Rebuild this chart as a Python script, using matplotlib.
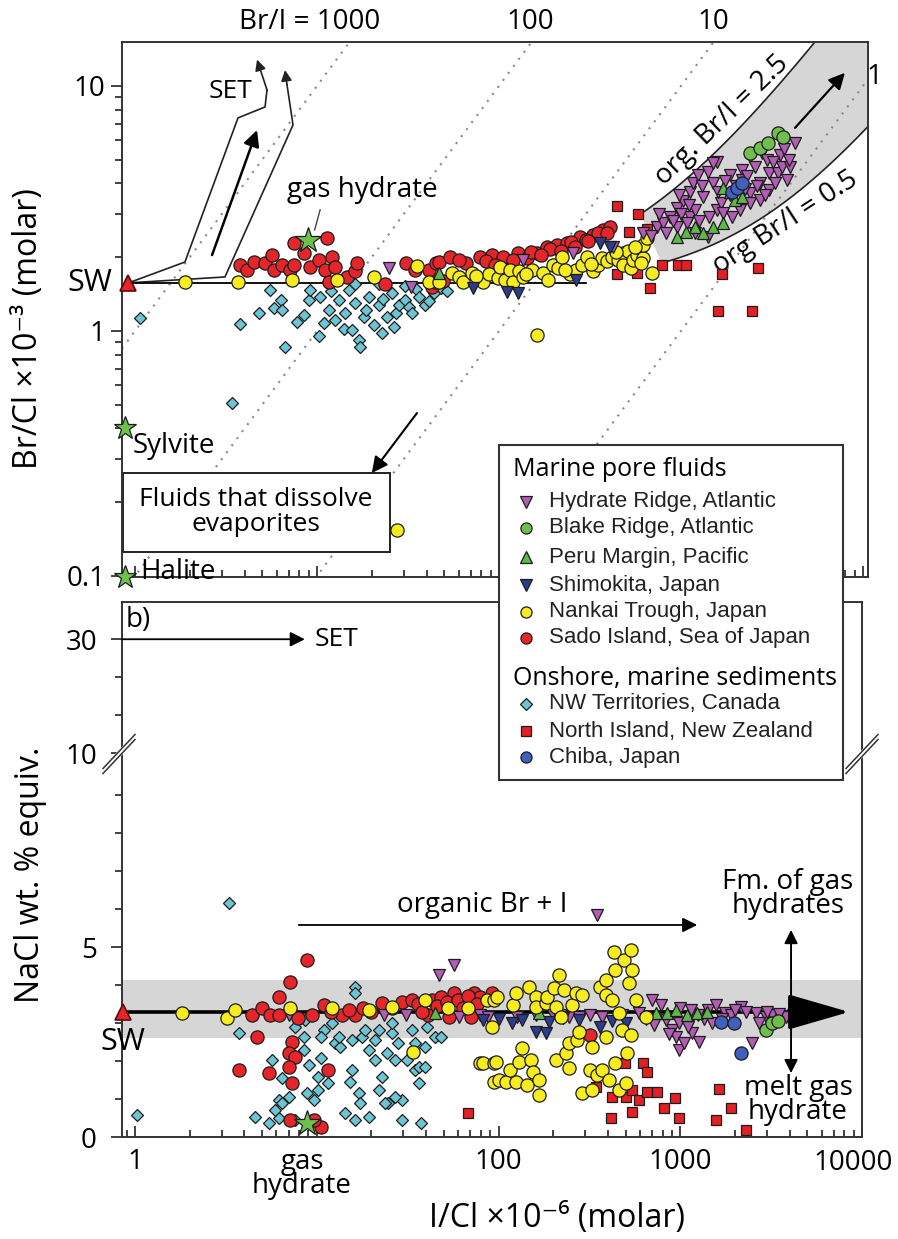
import matplotlib.pyplot as plt
import numpy as np
from matplotlib.patches import Rectangle
from matplotlib.lines import Line2D
from matplotlib.ticker import LogLocator, NullFormatter, FixedLocator

plt.rcParams['font.family'] = ['Open Sans', 'DejaVu Sans']

# ---------------- panel a: Br/Cl (x1e-3) vs I/Cl (x1e-6) ----------------
hydrate_ic = [25, 33, 135, 255, 425, 740, 800, 830, 870, 950, 950, 1030, 1120, 1120, 1160,
              1200, 1200, 1240, 1320, 1400, 1400, 1420, 1500, 1580, 1580, 1650, 1700, 1850,
              1850, 1900, 2100, 2160, 2160, 2400, 2400, 2400, 2540, 2700, 2700, 2800, 2950,
              3060, 3060, 3400, 3500, 3600, 3830, 3980, 4240, 1500, 1300, 1000, 1100, 900,
              2000, 2300, 2600, 3200, 3700, 620, 680, 760, 980, 1080, 1250, 1600, 1750,
              2250, 2900, 3300, 3900]
hydrate_brcl = [1.81, 1.51, 1.95, 2.08, 2.2, 2.66, 2.76, 2.51, 2.92, 3.17, 2.66, 3.4, 3.7, 2.92,
                4.0, 3.1, 2.51, 4.33, 3.53, 4.46, 2.42, 2.92, 4.0, 4.9, 3.12, 3.33, 3.03, 4.33,
                3.6, 2.92, 3.12, 4.54, 4.14, 3.66, 3.33, 5.14, 4.67, 4.0, 3.42, 5.33, 5.0,
                3.77, 4.42, 4.42, 5.2, 4.67, 4.14, 4.67, 5.85, 4.84, 3.9, 3.0, 3.25, 2.8,
                3.9, 4.3, 3.9, 4.9, 5.5, 2.5, 2.45, 3.0, 3.6, 2.75, 2.8, 3.7, 4.1,
                3.8, 3.6, 4.0, 5.0]
blake_ic = [2400, 2700, 2990, 3400, 3620]
blake_brcl = [5.33, 5.58, 5.85, 6.43, 6.2]
peru_ic = [47, 950, 1070, 1200, 1320, 1500, 1700, 1700, 1850, 1990, 2160]
peru_brcl = [1.72, 2.42, 2.54, 2.66, 2.51, 2.66, 2.76, 3.83, 3.7, 3.42, 3.53]
shimo_ic = [72, 110, 127, 266, 360, 405]
shimo_brcl = [1.5, 1.44, 1.43, 1.61, 2.28, 2.2]
nankai_ic = [1.88, 3.68, 7.3, 12.9, 20.5, 35.5, 41, 47, 55, 60, 63, 71, 81.6, 88, 98.6,
             101, 108, 115, 119, 128, 135, 151, 161, 174, 185, 197, 210, 222, 245, 265,
             285, 303, 328, 350, 367, 390, 417, 450, 480, 480, 510, 530, 545, 570, 595,
             620, 620, 650, 695, 27.5, 75, 140, 230, 320, 440, 560, 600]
nankai_brcl = [1.58, 1.58, 1.61, 1.61, 1.66, 1.84, 1.58, 1.58, 1.73, 1.66, 1.59, 1.73, 1.59,
               1.70, 1.65, 1.83, 1.62, 1.78, 1.59, 1.75, 1.66, 1.78, 0.96, 1.73, 1.62, 1.86,
               1.80, 2.0, 1.70, 1.78, 1.86, 2.0, 1.75, 1.85, 1.99, 1.92, 2.0, 1.95, 2.08,
               1.85, 2.12, 1.80, 1.95, 2.05, 2.18, 1.98, 2.25, 2.39, 1.73, 0.154, 1.68, 1.70,
               1.78, 1.88, 2.1, 2.2, 1.9]
sado_ic = [3.77, 4.1, 4.5, 5.18, 5.65, 5.8, 6.4, 7.1, 7.5, 7.5, 8.5, 9.1, 10.2, 11.0, 11.3,
           11.6, 12.1, 12.6, 14.6, 16.2, 16.6, 23.6, 31, 34.5, 41, 43, 44.5, 45, 47, 49,
           53.6, 66, 78.6, 91.5, 105, 112, 127, 142, 161, 183, 208, 236, 278, 328, 372, 405,
           60, 85, 150, 190, 250, 300, 350, 95, 120, 170, 220, 260, 310, 390]
sado_brcl = [1.86, 1.78, 1.91, 1.89, 2.05, 1.78, 1.86, 1.78, 2.28, 1.86, 2.08, 1.83, 1.95,
             1.78, 2.39, 1.58, 2.0, 1.83, 1.66, 1.76, 1.89, 1.55, 1.89, 1.78, 1.78, 1.51,
             1.58, 1.89, 1.91, 1.6, 2.0, 1.89, 2.0, 2.05, 2.0, 1.78, 2.08, 1.99, 2.08, 2.2,
             2.24, 2.28, 2.42, 2.46, 2.58, 2.65, 1.95, 1.92, 2.1, 2.15, 2.3, 2.35, 2.5, 1.85,
             1.95, 2.05, 2.12, 2.2, 2.32, 2.5]
nwt_ic = [1.07, 3.4, 3.77, 4.8, 5.5, 5.8, 6.3, 6.4, 6.7, 7.8, 8.5, 9.0, 9.1, 10.3, 10.4,
          10.9, 11.6, 12, 12.6, 13.2, 14, 14.3, 15, 15.6, 16.2, 16.2, 17, 17.3, 18.1, 18.5,
          19.3, 20.5, 21.9, 21.9, 22.8, 23, 24.2, 25.8, 26.4, 27, 28.1, 30.5, 30.5, 32,
          33.3, 35, 36.3, 39.3, 41, 44, 48, 52]
nwt_brcl = [1.13, 0.51, 1.07, 1.18, 1.47, 1.24, 1.34, 1.22, 0.86, 1.09, 1.16, 1.34, 1.47,
            0.95, 1.38, 1.08, 1.22, 1.45, 1.11, 1.34, 1.02, 1.18, 1.47, 1.01, 1.3, 1.55,
            0.92, 0.86, 1.14, 1.22, 1.38, 1.06, 1.27, 1.55, 0.98, 1.35, 1.14, 1.43, 1.04,
            1.18, 1.27, 1.34, 1.52, 1.25, 1.18, 1.48, 1.38, 1.27, 1.33, 1.43, 1.5, 1.45]
nz_ic = [446, 580, 517, 650, 785, 960, 1070, 446, 570, 675, 1690, 2640, 1590, 2470]
nz_brcl = [3.24, 3.0, 2.54, 2.6, 1.86, 1.86, 1.86, 1.71, 1.73, 1.5, 1.71, 1.81, 1.2, 1.2]
chiba_ic = [1900, 2040, 2160]
chiba_brcl = [3.7, 3.83, 4.0]

# reference points: seawater, gas hydrate, sylvite, halite
sw_ic, sw_brcl, sw_nacl = 0.92, 1.57, 3.29
star_ic = [8.9, 0.88, 0.88]
star_brcl = [2.35, 0.40, 0.099]

# Br/I reference lines and organic mixing curves
brI_ratios = [1000, 100, 10, 1]
org_ratios = [2.5, 0.5]

# ---------------- panel b: NaCl wt.% vs I/Cl ----------------
nankai_ic_b = [1.81, 3.2, 3.54, 7.1, 12.1, 19.5, 25.8, 34, 39.3, 53, 68, 78.6, 82, 86, 92.5,
               95, 95, 95, 97, 98.6, 101, 110, 115, 120, 125, 125, 130, 135, 144, 147, 151,
               155, 161, 161, 168, 168, 183, 185, 202, 208, 208, 216, 222, 230, 236, 245,
               245, 255, 266, 272, 278, 289, 289, 318, 328, 328, 348, 360, 372, 390, 390,
               390, 405, 420, 432, 440, 440, 460, 460, 480, 490, 505, 510, 520, 535, 535,
               545, 570, 650]
nankai_nacl = [3.26, 3.13, 3.34, 3.39, 3.39, 3.34, 3.42, 2.24, 3.6, 3.39, 3.39, 1.95, 1.95,
               3.6, 2.9, 1.95, 1.45, 3.6, 1.97, 3.68, 1.5, 1.45, 1.76, 3.47, 1.45, 3.79,
               1.97, 2.34, 1.37, 3.95, 2.03, 1.71, 3.68, 3.42, 1.5, 1.1, 3.53, 3.68, 3.92,
               2.03, 3.42, 4.26, 3.16, 3.87, 2.21, 1.82, 2.47, 3.47, 3.79, 2.55, 2.76, 3.74,
               1.16, 1.76, 2.37, 1.24, 1.63, 3.95, 1.76, 2.63, 4.13, 3.74, 1.5, 3.6, 4.87,
               4.39, 1.95, 3.26, 1.24, 2.82, 4.66, 1.42, 2.21, 4.05, 4.92, 2.68, 4.39, 3.6,
               3.16]
sado_ic_b = [4.4, 5.0, 5.5, 6.2, 6.2, 7.1, 8.8, 7.9, 9.4, 10.9, 13.7, 16.2, 4.7, 3.73, 5.45,
             7.3, 7.0, 7.55, 7.0, 7.3, 11.6, 10.6, 7.1, 9.7, 22.8, 29.3, 33.3, 43, 48.5, 57,
             73.5, 71, 53.6, 41, 78.6, 92.5, 318, 12, 15, 18, 20, 26, 36, 38, 46, 52, 60,
             64, 68, 76]
sado_nacl = [3.21, 3.39, 3.21, 3.21, 3.68, 4.08, 4.66, 3.13, 3.21, 3.47, 3.21, 3.21, 2.63,
             1.76, 1.68, 2.5, 2.21, 2.1, 1.84, 1.42, 1.76, 0.26, 0.45, 0.45, 3.53, 3.55, 3.6,
             3.6, 3.68, 3.79, 3.79, 3.16, 3.16, 3.21, 3.68, 3.79, 2.68, 3.3, 3.35, 3.4, 3.3,
             3.4, 3.5, 3.3, 3.45, 3.55, 3.6, 3.4, 3.7, 3.5]
nwt_ic_b = [3.28, 1.03, 3.73, 4.57, 5.45, 6.2, 5.65, 6.4, 6.2, 7.0, 7.55, 8.5, 8.5, 8.8, 9.1,
            9.6, 10.2, 10.6, 10.9, 12.6, 13.4, 14.3, 15.2, 15.6, 16.2, 16.2, 16.2, 17, 17.3,
            17.7, 18.4, 19.3, 19.3, 20.8, 21.9, 21.9, 22.8, 24.2, 24.8, 25.8, 25.8, 26.8,
            28.1, 29.3, 29.3, 31.2, 33.3, 34.5, 36.3, 37.6, 39.3, 40.2, 44.5, 48.5, 36.3,
            39.3, 20.8, 15.6, 13.2, 12.1, 10.6, 8.6, 7.55, 5.9, 6.4, 11.6, 10.2, 26.8, 23.6,
            34.5]
nwt_nacl = [6.16, 0.58, 2.74, 0.53, 0.37, 0.5, 2.03, 1.55, 0.97, 1.05, 0.45, 2.63, 2.29,
            1.16, 1.89, 0.97, 1.58, 2.08, 2.82, 2.47, 2.37, 0.63, 1.45, 1.76, 0.45, 3.95,
            3.79, 1.16, 0.89, 2.63, 2.82, 2.29, 0.53, 2.55, 1.24, 2.82, 1.58, 2.21, 0.89,
            2.74, 3.0, 2.03, 2.47, 0.97, 0.45, 2.03, 2.82, 1.76, 1.42, 0.37, 2.37, 2.89,
            2.63, 2.63, 1.84, 1.84, 2.03, 2.55, 2.63, 3.0, 2.63, 3.08, 2.89, 0.71, 0.89,
            1.42, 1.24, 1.05, 0.89, 2.47]
hydrate_ic_b = [7.0, 23.3, 31, 47, 57, 61, 78.6, 88, 127, 161, 197, 222, 245, 278, 318, 350,
                372, 480, 595, 700, 785, 830, 900, 950, 990, 990, 1050, 1160, 1160, 1270,
                1420, 1500, 1580, 1760, 2160, 2490, 2600, 2950, 3200, 3830, 4150, 650, 720,
                870, 1100, 1350, 1900, 2300, 3500, 1000, 1250, 1150, 1700, 2000, 2700, 3000]
hydrate_nacl = [3.21, 3.21, 3.21, 4.26, 4.53, 3.16, 3.21, 3.16, 3.16, 3.21, 3.26, 3.21, 3.16,
                3.16, 3.21, 5.84, 3.16, 3.21, 3.26, 3.6, 3.47, 3.08, 2.82, 2.63, 2.29, 3.0,
                2.47, 2.74, 3.16, 2.5, 3.34, 3.0, 3.47, 3.26, 3.42, 2.47, 3.26, 3.16, 3.21,
                3.16, 3.21, 3.1, 2.95, 2.7, 2.9, 3.1, 3.2, 3.3, 3.25, 3.4, 3.2, 3.35, 3.1,
                3.35, 3.0, 3.3]
shimo_ic_b = [82, 100, 118, 135, 161, 183, 190, 225, 278, 360, 420, 500]
shimo_nacl = [3.08, 3.1, 3.0, 3.08, 2.76, 2.74, 3.03, 3.13, 3.08, 2.89, 3.05, 3.0]
peru_ic_b = [44.5, 168, 735, 845, 950, 1090, 1240, 1400]
peru_nacl = [3.26, 3.26, 3.26, 3.26, 3.34, 3.21, 3.26, 3.3]
blake_ic_b = [2950, 3200, 3450]
blake_nacl = [2.82, 3.0, 3.05]
chiba_ic_b = [1680, 1980, 2170]
chiba_nacl = [3.03, 3.0, 2.21]
nz_ic_b = [68, 345, 418, 422, 495, 505, 545, 545, 595, 620, 660, 660, 745, 815, 930, 990,
           1580, 1640, 1900, 2300]
nz_nacl = [0.63, 1.32, 0.5, 1.05, 1.95, 1.05, 1.24, 0.66, 0.97, 1.95, 1.71, 1.18, 1.18, 0.76,
           1.03, 0.5, 0.45, 1.26, 0.76, 0.18]
gh_ic_b, gh_nacl = 8.8, 0.37
sw_band = (2.6, 4.13)

# y axis of panel b is broken above 10 wt.% (10 -> 10.1, 30 -> 13.1 on the drawn axis)
nacl_ticks = [0, 5, 10.1, 13.1]
nacl_ticklabels = ['0', '5', '10', '30']
nacl_minor = [1, 2, 3, 4, 6, 7, 8, 9, 11.1, 12.1]
ic_ticks = [1, 10, 100, 1000, 10000]
ic_ticklabels = ['1', '', '100', '1000', '']

legend_groups = [
    ('Marine pore fluids', [
        ('Hydrate Ridge, Atlantic', 'v', '#b25cb6', 8),
        ('Blake Ridge, Atlantic', 'o', '#70bf4c', 8),
        ('Peru Margin, Pacific', '^', '#5db848', 8),
        ('Shimokita, Japan', 'v', '#2c3c8c', 8),
        ('Nankai Trough, Japan', 'o', '#f6ec1e', 8),
        ('Sado Island, Sea of Japan', 'o', '#e5252a', 8)]),
    ('Onshore, marine sediments', [
        ('NW Territories, Canada', 'D', '#6cc5d5', 6),
        ('North Island, New Zealand', 's', '#e22024', 7),
        ('Chiba, Japan', 'o', '#3f60bd', 8)]),
]

STYLE = {
    'nwt': ('D', '#6cc5d5', 6.5),
    'nz': ('s', '#e22024', 7.5),
    'sado': ('o', '#e5252a', 9.5),
    'nankai': ('o', '#f6ec1e', 9.5),
    'hydrate': ('v', '#b25cb6', 8.5),
    'peru': ('^', '#5db848', 8.5),
    'shimo': ('v', '#2c3c8c', 8.5),
    'blake': ('o', '#70bf4c', 9.5),
    'chiba': ('o', '#3f60bd', 9.5),
}
EDGE = '#1c1c1c'
SPINE = '#333333'


def pts(ax, x, y, key, z):
    m, fc, ms = STYLE[key]
    ax.plot(x, y, ls='none', marker=m, ms=ms, mfc=fc, mec=EDGE, mew=0.9, zorder=z)


W, H = 898, 1239
fig = plt.figure(figsize=(W / 100, H / 100), dpi=100)


def box(l, t, r, b):
    return [l / W, 1 - b / H, (r - l) / W, (b - t) / H]


ax1 = fig.add_axes(box(122, 42, 868, 577))
ax2 = fig.add_axes(box(122, 602, 862, 1137))

# ---------------- panel a ----------------
ax1.set_xscale('log')
ax1.set_yscale('log')
ax1.set_xlim(0.848, 10650)
ax1.set_ylim(0.099, 15.1)

xr = np.array([0.5, 20000.0])
for r in brI_ratios:
    ax1.plot(xr, r * xr / 1000, ls=(0, (1, 3.2)), color='#8a8a8a', lw=1.5, zorder=1)

xu = np.logspace(np.log10(600), np.log10(11000), 200)
xl = np.logspace(np.log10(780), np.log10(11000), 200)
yu = 1.5 + org_ratios[0] * xu / 1000
yl = 1.5 + org_ratios[1] * xl / 1000
ax1.fill(np.r_[xu, xl[::-1]], np.r_[yu, yl[::-1]], color='#d6d6d6', lw=0, zorder=0.5)
ax1.plot(xu, yu, color='#222222', lw=1.2, zorder=1.2)
ax1.plot(xl, yl, color='#222222', lw=1.2, zorder=1.2)
ax1.annotate('', xy=(7950, 11.3), xytext=(4230, 6.74),
             arrowprops=dict(arrowstyle='-|>', color='k', lw=1.6, mutation_scale=24,
                             shrinkA=0, shrinkB=0), zorder=6)

# SET paths
ax1.plot([0.92, 1.88, 3.68, 5.18, 5.31], [1.57, 1.91, 7.4, 8.2, 9.63], color='#222', lw=1.2, zorder=2)
ax1.annotate('', xy=(4.68, 12.8), xytext=(5.31, 9.63),
             arrowprops=dict(arrowstyle='-|>', color='#222', lw=1.2, mutation_scale=16,
                             shrinkA=0, shrinkB=0))
ax1.plot([0.92, 3.12, 7.38, 6.84], [1.57, 1.66, 6.93, 10.1], color='#222', lw=1.2, zorder=2)
ax1.annotate('', xy=(6.67, 11.6), xytext=(6.84, 10.1),
             arrowprops=dict(arrowstyle='-|>', color='#222', lw=1.2, mutation_scale=16,
                             shrinkA=0, shrinkB=0))
ax1.annotate('', xy=(4.68, 6.6), xytext=(2.65, 2.04),
             arrowprops=dict(arrowstyle='-|>', color='k', lw=1.8, mutation_scale=24,
                             shrinkA=0, shrinkB=0))
ax1.plot([sw_ic, 300], [sw_brcl, sw_brcl], color='k', lw=1.3, zorder=2.4)

# fluids box and arrow
ax1.add_patch(Rectangle((0.0013, 0.047), 0.358, 0.147, transform=ax1.transAxes,
                        fc='white', ec='#222', lw=1.4, zorder=2.5))
ax1.annotate('', xy=(20, 0.263), xytext=(35.4, 0.462),
             arrowprops=dict(arrowstyle='-|>', color='k', lw=1.5, mutation_scale=24,
                             shrinkA=0, shrinkB=0), zorder=3)
ax1.plot([10.4, 9.7], [3.12, 2.58], color='#444', lw=1.0, zorder=2)

pts(ax1, nwt_ic, nwt_brcl, 'nwt', 3)
pts(ax1, nz_ic, nz_brcl, 'nz', 3.1)
pts(ax1, sado_ic, sado_brcl, 'sado', 3.2)
pts(ax1, nankai_ic, nankai_brcl, 'nankai', 3.3)
pts(ax1, hydrate_ic, hydrate_brcl, 'hydrate', 3.4)
pts(ax1, peru_ic, peru_brcl, 'peru', 3.5)
pts(ax1, shimo_ic, shimo_brcl, 'shimo', 3.5)
pts(ax1, blake_ic, blake_brcl, 'blake', 3.6)
pts(ax1, chiba_ic, chiba_brcl, 'chiba', 3.7)
ax1.plot(star_ic[:1], star_brcl[:1], ls='none', marker='*', ms=19, mfc='#6cc24a', mec=EDGE,
         mew=0.9, zorder=5)
ax1.plot(star_ic[1:], star_brcl[1:], ls='none', marker='*', ms=17, mfc='#6cc24a', mec=EDGE,
         mew=0.9, zorder=5, clip_on=False)
ax1.plot([sw_ic], [sw_brcl], ls='none', marker='^', ms=12, mfc='#e5252a', mec='#5a0a0a',
         mew=1.2, zorder=5, clip_on=False)

ax1.text(1680, 7.26, 'org. Br/I = 2.5', rotation=44, ha='center', va='center', fontsize=20)
ax1.text(3730, 2.76, 'org Br/I = 0.5', rotation=33, ha='center', va='center', fontsize=20)

ax1.set_xticks(ic_ticks)
ax1.set_xticklabels([])
ax1.xaxis.set_minor_locator(LogLocator(base=10, subs=np.arange(2, 10), numticks=30))
ax1.xaxis.set_minor_formatter(NullFormatter())
ax1.set_yticks([0.1, 1, 10])
ax1.set_yticklabels(['0.1', '1', '10'])
ax1.yaxis.set_minor_locator(LogLocator(base=10, subs=np.arange(2, 10), numticks=30))
ax1.yaxis.set_minor_formatter(NullFormatter())
ax1.tick_params(axis='y', which='major', direction='out', length=8, width=1.3, labelsize=20,
                pad=4, color=SPINE)
ax1.tick_params(axis='y', which='minor', direction='out', length=5, width=1.3, color=SPINE)
ax1.tick_params(axis='x', which='major', direction='in', length=8, width=1.3, color=SPINE)
ax1.tick_params(axis='x', which='minor', direction='in', length=5, width=1.3, color=SPINE)

# ---------------- panel b ----------------
ax2.set_xscale('log')
ax2.set_xlim(0.848, 10000)
ax2.set_ylim(0, 14.08)
ax2.axhspan(sw_band[0], sw_band[1], color='#d6d6d6', lw=0, zorder=0.5)
ax2.plot([0.86, 4400], [sw_nacl, sw_nacl], color='k', lw=2.6, zorder=2.5)
ax2.annotate('', xy=(8500, sw_nacl), xytext=(4300, sw_nacl),
             arrowprops=dict(arrowstyle='-|>,head_length=1.9,head_width=0.55', mutation_scale=20,
                             color='k', lw=2.6, shrinkA=0, shrinkB=0), zorder=7)

pts(ax2, nwt_ic_b, nwt_nacl, 'nwt', 3)
pts(ax2, nz_ic_b, nz_nacl, 'nz', 3.1)
pts(ax2, sado_ic_b, sado_nacl, 'sado', 3.2)
pts(ax2, hydrate_ic_b, hydrate_nacl, 'hydrate', 3.3)
pts(ax2, shimo_ic_b, shimo_nacl, 'shimo', 3.35)
pts(ax2, peru_ic_b, peru_nacl, 'peru', 3.4)
pts(ax2, nankai_ic_b, nankai_nacl, 'nankai', 3.5)
pts(ax2, blake_ic_b, blake_nacl, 'blake', 3.6)
pts(ax2, chiba_ic_b, chiba_nacl, 'chiba', 3.7)
ax2.plot([gh_ic_b], [gh_nacl], ls='none', marker='*', ms=19, mfc='#6cc24a', mec=EDGE, mew=0.9,
         zorder=5)
ax2.plot([0.86], [sw_nacl], ls='none', marker='^', ms=12, mfc='#e5252a', mec='#5a0a0a',
         mew=1.2, zorder=5, clip_on=False)

ax2.annotate('', xy=(8.6, 13.1), xytext=(0.848, 13.1),
             arrowprops=dict(arrowstyle='-|>', color='k', lw=1.3, mutation_scale=22,
                             shrinkA=0, shrinkB=0))
ax2.annotate('', xy=(1240, 5.58), xytext=(7.96, 5.58),
             arrowprops=dict(arrowstyle='-|>', color='k', lw=1.3, mutation_scale=22,
                             shrinkA=0, shrinkB=0))
ax2.annotate('', xy=(4070, 5.45), xytext=(4070, 1.68),
             arrowprops=dict(arrowstyle='<|-|>', color='k', lw=1.4, mutation_scale=20,
                             shrinkA=0, shrinkB=0), zorder=7)

ax2.set_xticks(ic_ticks)
ax2.set_xticklabels(ic_ticklabels)
ax2.xaxis.set_minor_locator(LogLocator(base=10, subs=np.arange(2, 10), numticks=30))
ax2.xaxis.set_minor_formatter(NullFormatter())
ax2.set_yticks(nacl_ticks)
ax2.set_yticklabels(nacl_ticklabels)
ax2.yaxis.set_minor_locator(FixedLocator(nacl_minor))
ax2.tick_params(axis='y', which='major', direction='out', length=8, width=1.3, labelsize=20,
                pad=10, color=SPINE)
ax2.tick_params(axis='y', which='minor', direction='out', length=5, width=1.3, color=SPINE)
ax2.tick_params(axis='x', which='major', direction='in', length=8, width=1.3, labelsize=20,
                pad=8, color=SPINE)
ax2.tick_params(axis='x', which='minor', direction='in', length=5, width=1.3, color=SPINE)

for ax in (ax1, ax2):
    for s in ax.spines.values():
        s.set_linewidth(1.4)
        s.set_color(SPINE)

# ---------------- overlay for labels, legend and break marks ----------------
ov = fig.add_axes([0, 0, 1, 1], zorder=10)
ov.set_xlim(0, W)
ov.set_ylim(H, 0)
ov.axis('off')
ov.patch.set_alpha(0)


def t(x, y, s, size=20, **kw):
    kw.setdefault('ha', 'center')
    kw.setdefault('va', 'center')
    ov.text(x, y, s, fontsize=size, **kw)


t(310, 22, 'Br/I = 1000')
t(530, 22, '100')
t(713, 22, '10')
t(874, 77, '1')
t(230, 92, 'SET', 19)
t(362, 190, 'gas hydrate')
t(90, 283, 'SW', 22)
t(133, 446, 'Sylvite', ha='left')
t(140, 572, 'Halite', ha='left')
t(256, 512, 'Fluids that dissolve\nevaporites', 19, linespacing=0.95)
t(126, 620, 'b)', ha='left')
t(315, 639, 'SET', 19, ha='left')
t(482, 905, 'organic Br + I')
t(788, 894, 'Fm. of gas\nhydrates', linespacing=0.85)
t(798, 1100, 'melt gas\nhydrate', linespacing=0.85)
t(123, 1042, 'SW', 22)
t(302, 1174, 'gas\nhydrate', linespacing=0.85)
t(853, 1163, '10000')  # last x tick label, shifted left so it stays inside the picture
t(29, 329, 'Br/Cl ×10⁻³ (molar)', 23, rotation=90)
t(31, 875, 'NaCl wt. % equiv.', 23, rotation=90)
t(557, 1218, 'I/Cl ×10⁻⁶ (molar)', 23)

# broken-axis marks
for bx in (119, 862):
    ov.plot([bx - 16, bx + 16], [771, 737], color='white', lw=4, solid_capstyle='butt')
    for off in (-2.5, 2.5):
        ov.plot([bx - 16, bx + 16], [771 + off, 737 + off], color='#333', lw=1.1)

# legend
ov.add_patch(Rectangle((499, 445), 344, 335, fc='white', ec=SPINE, lw=1.5))
rows = [470, 502, 528, 557, 585, 612, 638, 678, 704, 731, 757]
i = 0
for title, entries in legend_groups:
    t(513, rows[i], title, 18, ha='left')
    i += 1
    for label, m, fc, ms in entries:
        ov.add_line(Line2D([526], [rows[i]], ls='none', marker=m, ms=ms, mfc=fc, mec=EDGE,
                           mew=0.9))
        ov.text(549, rows[i], label, fontsize=16, ha='left', va='center',
                family=['Liberation Sans', 'DejaVu Sans'], color='#222')
        i += 1

fig.savefig('out.png', dpi=100)
